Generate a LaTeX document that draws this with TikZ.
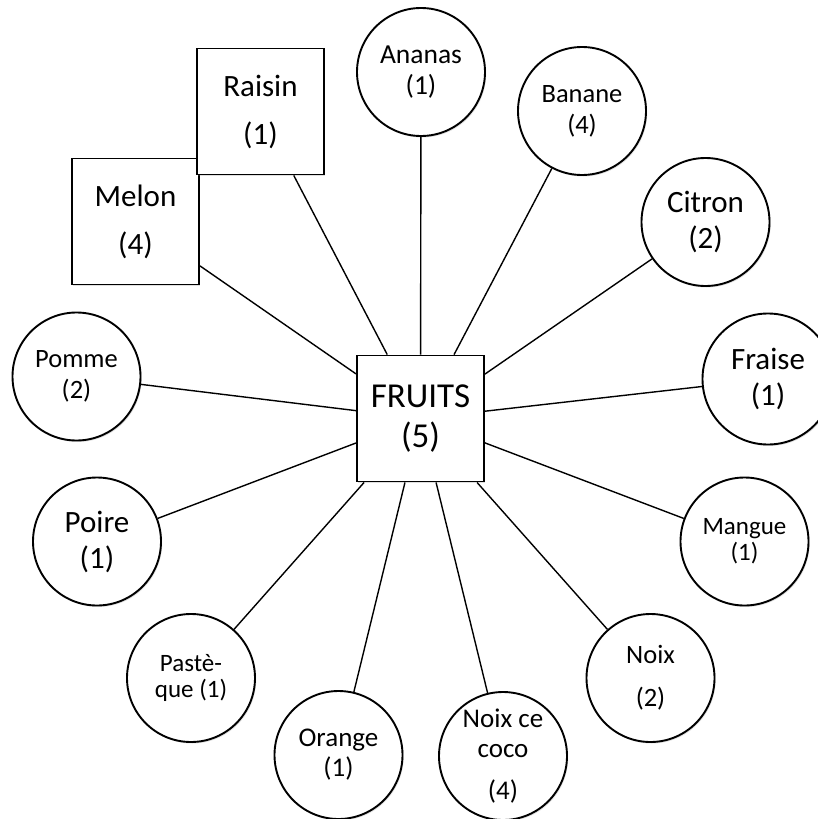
\documentclass[tikz,border=0pt]{standalone}
\usepackage{fontspec}
\setmainfont{Carlito}
\usetikzlibrary{shadows}
\tikzset{
  fruit/.style={circle, draw, line width=1.9pt, fill=white, minimum size=128pt, inner sep=0pt, align=center,
    drop shadow={shadow xshift=1.2pt, shadow yshift=-1.5pt, opacity=0.25}},
  sqbox/.style={rectangle, draw, line width=1.9pt, fill=white, minimum width=127pt, minimum height=126pt, inner sep=0pt, align=center,
    drop shadow={shadow xshift=1.2pt, shadow yshift=-1.5pt, opacity=0.25}},
  link/.style={line width=1.4pt},
  fs/.style={font=\fontsize{26.5}{31}\selectfont},
  fm/.style={font=\fontsize{31}{36}\selectfont},
  fsm/.style={font=\fontsize{25}{26}\selectfont},
}
\begin{document}
\begin{tikzpicture}[x=1pt,y=-1pt]
\useasboundingbox (0,0) rectangle (818,819);
\node[sqbox, font=\fontsize{35}{40}\selectfont] (F) at (420.5,418.5) {FRUITS\\(5)};
\node[fruit, font=\fontsize{27.5}{31}\selectfont] (ananas) at (421,72) {Ananas\\(1)};
\node[fruit, fs] (banane) at (582,111) {Banane\\(4)};
\node[fruit, fm] (citron) at (705.5,222) {Citron\\(2)};
\node[fruit, fm, minimum size=131pt] (fraise) at (768,379) {Fraise\\(1)};
\node[fruit, fsm] (mangue) at (744.5,541.5) {Mangue\\(1)};
\node[fruit, fs] (noix) at (650.5,678) {Noix\\[12pt](2)};
\node[fruit, font=\fontsize{27}{30}\selectfont] (coco) at (503,756) {Noix ce\\coco\\[12pt](4)};
\node[fruit, font=\fontsize{27}{30}\selectfont] (orange) at (338.5,755) {Orange\\(1)};
\node[fruit, fsm] (pasteque) at (191,678) {Pastè-\\que (1)};
\node[fruit, fm] (poire) at (97,541.5) {Poire\\(1)};
\node[fruit, fs] (pomme) at (76.5,376.5) {Pomme\\(2)};
\node[sqbox, fm] (melon) at (135.5,221.5) {Melon\\[12pt](4)};
\node[sqbox, fm] (raisin) at (260.5,111.5) {Raisin\\[12pt](1)};
\foreach \n in {ananas,banane,citron,fraise,mangue,noix,coco,orange,pasteque,poire,pomme,melon,raisin}
  \draw[link] (F) -- (\n);
\end{tikzpicture}
\end{document}
